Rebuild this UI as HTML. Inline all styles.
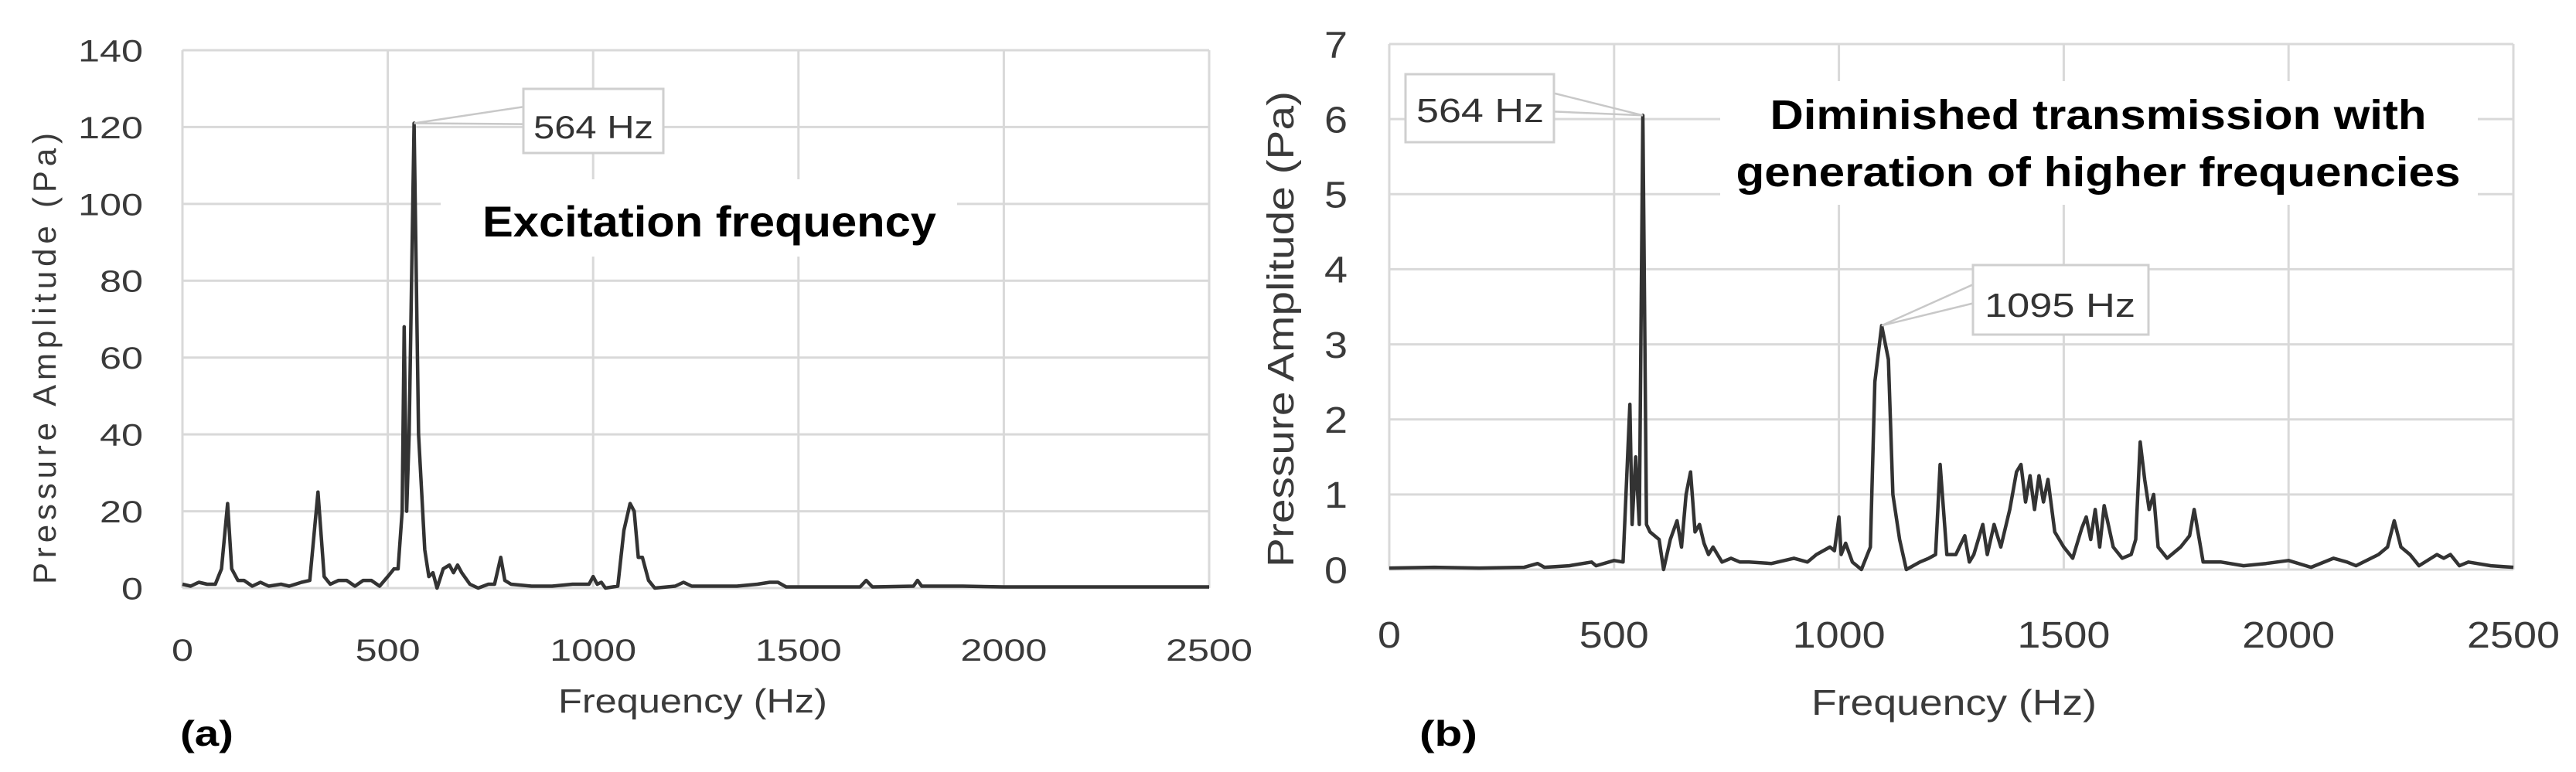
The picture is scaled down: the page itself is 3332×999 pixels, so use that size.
<!DOCTYPE html>
<html><head><meta charset="utf-8"><style>
html,body{margin:0;padding:0;background:#fff;}
svg{display:block;}
text{font-family:"Liberation Sans",sans-serif;}
</style></head><body>
<svg id="fig" width="3332" height="999" viewBox="0 0 3332 999" xmlns="http://www.w3.org/2000/svg">
<rect width="3332" height="999" fill="#fff"/>
<g id="chartA"></g>
<g id="chartB"></g>
</svg>
<script>
// Chart (a) data
const freqA = [0,20,40,60,80,95,110,120,135,150,170,190,210,240,260,290,310,330,345,360,380,400,420,440,460,480,500,515,525,535,540,546,552,564,575,590,600,610,620,635,650,660,670,680,700,720,745,760,775,785,800,850,900,950,990,1000,1010,1020,1030,1060,1075,1090,1100,1110,1120,1135,1150,1200,1220,1240,1300,1350,1400,1430,1450,1470,1550,1650,1665,1680,1780,1790,1800,1900,2000,2100,2200,2300,2500];
const ampA  = [1,0.5,1.5,1,1,5,22,5,2,2,0.5,1.5,0.5,1,0.5,1.5,2,25,3,1,2,2,0.5,2,2,0.5,3,5,5,20,68,20,40,121,40,10,3,4,0,5,6,4,6,4,1,0,1,1,8,2,1,0.5,0.5,1,1,3,1,1.5,0,0.5,15,22,20,8,8,2,0,0.5,1.5,0.5,0.5,0.5,1,1.5,1.5,0.3,0.3,0.3,2,0.3,0.5,2,0.5,0.5,0.3,0.3,0.3,0.3,0.3];
const yTicksA = [0,20,40,60,80,100,120,140];
const xTicks = [0,500,1000,1500,2000,2500];
// Chart (b) data
const freqB = [0,100,200,300,330,345,400,450,460,500,520,535,540,548,556,564,572,580,600,610,625,640,650,660,670,680,690,700,710,720,740,760,780,800,850,900,930,950,980,990,1000,1005,1015,1030,1050,1070,1080,1095,1110,1120,1135,1150,1180,1200,1215,1225,1240,1260,1280,1290,1300,1320,1330,1345,1360,1380,1395,1405,1415,1425,1435,1445,1455,1465,1480,1500,1520,1540,1550,1560,1570,1580,1590,1610,1630,1650,1660,1670,1680,1690,1700,1710,1730,1760,1780,1790,1810,1850,1900,1950,2000,2050,2100,2130,2150,2200,2220,2235,2250,2270,2290,2330,2345,2360,2380,2400,2450,2500];
const ampB  = [0.02,0.03,0.02,0.03,0.08,0.03,0.05,0.1,0.05,0.12,0.1,2.2,0.6,1.5,0.6,6.05,0.6,0.5,0.4,0,0.4,0.65,0.3,1.0,1.3,0.5,0.6,0.35,0.2,0.3,0.1,0.15,0.1,0.1,0.08,0.15,0.1,0.2,0.3,0.25,0.7,0.2,0.35,0.1,0,0.3,2.5,3.25,2.8,1.0,0.4,0,0.1,0.15,0.2,1.4,0.2,0.2,0.45,0.1,0.2,0.6,0.2,0.6,0.3,0.8,1.3,1.4,0.9,1.25,0.8,1.25,0.9,1.2,0.5,0.3,0.15,0.55,0.7,0.4,0.8,0.3,0.85,0.3,0.15,0.2,0.4,1.7,1.2,0.8,1.0,0.3,0.15,0.3,0.45,0.8,0.1,0.1,0.05,0.08,0.12,0.03,0.15,0.1,0.05,0.2,0.3,0.65,0.3,0.2,0.05,0.2,0.15,0.2,0.05,0.1,0.05,0.03];
const yTicksB = [0,1,2,3,4,5,6,7];

const NS = "http://www.w3.org/2000/svg";
function mk(parent, tag, attrs, txt){
  const e = document.createElementNS(NS, tag);
  for (const k in attrs) e.setAttribute(k, attrs[k]);
  if (txt !== undefined) e.textContent = txt;
  parent.appendChild(e);
  return e;
}

function drawChart(g, cfg, freqs, amps, yTicks){
  const xs = f => cfg.x0 + f*(cfg.x1-cfg.x0)/2500;
  const ys = v => cfg.y0 - v*(cfg.y0-cfg.y1)/cfg.ymax;
  // gridlines
  yTicks.forEach(v=>{
    const l = mk(g,'line',{x1:cfg.x0,x2:cfg.x1,y1:ys(v),y2:ys(v),stroke:'#d9d9d9','stroke-width':3});
    
    
    const t = mk(g,'text',{x:cfg.yLabX,y:ys(v)+cfg.tickFs*0.36,'text-anchor':'end','font-size':cfg.tickFs,fill:'#3a3a3a',textLength:String(v).length*cfg.digW,lengthAdjust:'spacingAndGlyphs'},String(v));
    
    
  });
  xTicks.forEach(f=>{
    const l = mk(g,'line',{x1:xs(f),x2:xs(f),y1:cfg.y1,y2:cfg.y0,stroke:'#d9d9d9','stroke-width':3});
    
    
    const t = mk(g,'text',{x:xs(f),y:cfg.xLabY,'text-anchor':'middle','font-size':cfg.tickFs,fill:'#3a3a3a',textLength:String(f).length*cfg.digW,lengthAdjust:'spacingAndGlyphs'},String(f));
    
    
  });
  // title bg
  cfg.bg.forEach(r=>{
    const b = mk(g,'rect',{x:r[0],y:r[1],width:r[2],height:r[3],fill:'#fff'});
    
    
  });
  // series
  const d = freqs.map((f,i)=>(i?'L':'M')+xs(f).toFixed(1)+','+ys(amps[i]).toFixed(1)).join(' ');
  const p = mk(g,'path',{d:d,fill:'none',stroke:'#333','stroke-width':4.5,'stroke-linejoin':'round'});
  
  
  return {xs,ys};
}

function callout(g, px, py, bx, by, bw, bh, side, label, tx, tb, tl, fs){
  const ex = side==='left'? bx : bx+bw;
  const w = mk(g,'polyline',{points:`${ex},${by+bh*0.28} ${px},${py} ${ex},${by+bh*0.55}`,fill:'none',stroke:'#c8c8c8','stroke-width':2.5});
  
  
  const r = mk(g,'rect',{x:bx,y:by,width:bw,height:bh,fill:'#fff',stroke:'#cfcfcf','stroke-width':3});
  
  
  const t = mk(g,'text',{x:tx,y:tb,'font-size':fs,fill:'#333',textLength:tl,lengthAdjust:'spacingAndGlyphs'},label);
  
  
}

function txt(g, name, attrs, s){
  const t = mk(g,'text',attrs,s);
  
  
  return t;
}

// ---- Chart A
const gA = document.getElementById('chartA');
const A = drawChart(gA,{x0:236,x1:1564,y0:761,y1:65,ymax:140,yLabX:185,xLabY:855,tickFs:40,digW:28,bg:[[570,232,668,100]]},freqA,ampA,yTicksA);
callout(gA, A.xs(564), A.ys(121), 677,115,181,83,'left','564 Hz',690,179,155,42);
txt(gA,'annotation-excitation',{x:624,y:306,'font-size':56,'font-weight':'bold',fill:'#000',textLength:587,lengthAdjust:'spacingAndGlyphs'},'Excitation frequency');
txt(gA,'x-axis-title',{x:722,y:922,'font-size':44,fill:'#3a3a3a',textLength:348,lengthAdjust:'spacingAndGlyphs'},'Frequency (Hz)');
txt(gA,'y-axis-title',{x:0,y:0,'font-size':42,fill:'#3a3a3a','text-anchor':'middle',textLength:584,lengthAdjust:'spacing',transform:'translate(72,464) rotate(-90)'},'Pressure  Amplitude  (Pa)');
txt(gA,'panel-label-a',{x:233,y:965,'font-size':46,'font-weight':'bold',fill:'#000',textLength:69,lengthAdjust:'spacingAndGlyphs'},'(a)');

// ---- Chart B
const gB = document.getElementById('chartB');
const B = drawChart(gB,{x0:1797,x1:3251,y0:737,y1:57,ymax:7,yLabX:1743,xLabY:838,tickFs:48,digW:30,bg:[[2225,105,980,160]]},freqB,ampB,yTicksB);
callout(gB, B.xs(564), B.ys(6.05), 1818,96,192,88,'right','564 Hz',1832,158,165,44);
callout(gB, B.xs(1095), B.ys(3.25), 2552,343,227,90,'left','1095 Hz',2567,410,195,44);
txt(gB,'annotation-line1',{x:2714,y:167,'font-size':54,'font-weight':'bold',fill:'#000','text-anchor':'middle',textLength:849,lengthAdjust:'spacingAndGlyphs'},'Diminished transmission with');
txt(gB,'annotation-line2',{x:2714,y:241,'font-size':54,'font-weight':'bold',fill:'#000','text-anchor':'middle',textLength:937,lengthAdjust:'spacingAndGlyphs'},'generation of higher frequencies');
txt(gB,'x-axis-title',{x:2343,y:925,'font-size':46,fill:'#3a3a3a',textLength:369,lengthAdjust:'spacingAndGlyphs'},'Frequency (Hz)');
txt(gB,'y-axis-title',{x:0,y:0,'font-size':48,fill:'#3a3a3a','text-anchor':'middle',textLength:616,lengthAdjust:'spacingAndGlyphs',transform:'translate(1673,426) rotate(-90)'},'Pressure Amplitude (Pa)');
txt(gB,'panel-label-b',{x:1836,y:965,'font-size':46,'font-weight':'bold',fill:'#000',textLength:75,lengthAdjust:'spacingAndGlyphs'},'(b)');
</script>
</body></html>
